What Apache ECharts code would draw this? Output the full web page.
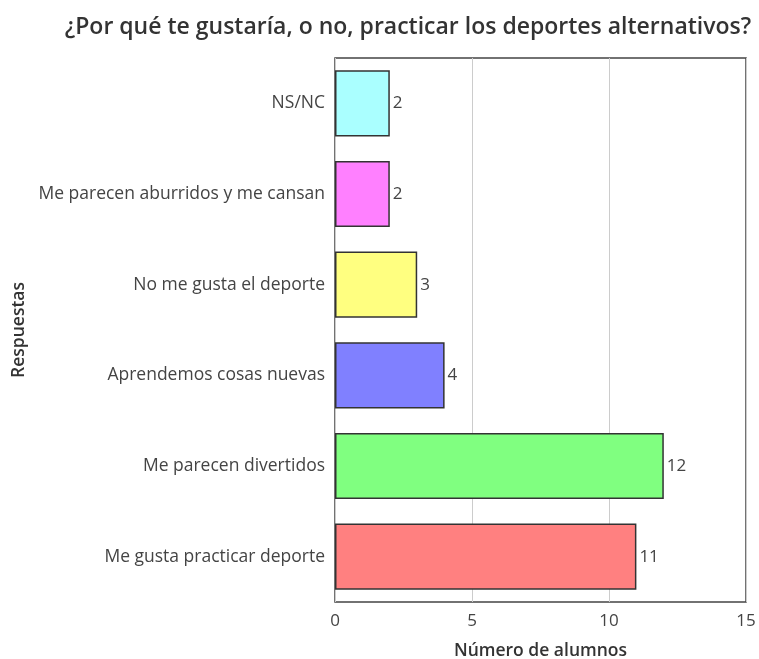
<!DOCTYPE html>
<html><head><meta charset="utf-8">
<script src="https://cdn.jsdelivr.net/npm/echarts@6/dist/echarts.min.js"></script>
<style>html,body{margin:0;padding:0;background:#fff}#c{width:759px;height:659px}</style>
</head><body><div id="c"></div>
<script>
const categories = ["Me gusta practicar deporte","Me parecen divertidos","Aprendemos cosas nuevas","No me gusta el deporte","Me parecen aburridos y me cansan","NS/NC"];
const values = [11,12,4,3,2,2];
const colors = ["#FF8080","#80FF80","#8080FF","#FFFF80","#FF80FF","#AAFFFF"];
const xTicks = [0,5,10,15];
const font = "'Open Sans', sans-serif";
const chart = echarts.init(document.getElementById('c'));
chart.setOption({
  animation:false,
  title:{text:"¿Por qué te gustaría, o no, practicar los deportes alternativos?",left:403,top:11,textAlign:'center',
    textStyle:{fontFamily:font,fontSize:23,fontWeight:600,color:'#333'}},
  grid:{left:335,right:13,top:58,bottom:57,outerBoundsMode:'none',containLabel:false,show:true,borderColor:'#444',borderWidth:1.5,backgroundColor:'transparent'},
  xAxis:{type:'value',min:xTicks[0],max:xTicks[xTicks.length-1],interval:5,
    name:"Número de alumnos",nameLocation:'middle',nameGap:40,
    nameTextStyle:{fontFamily:font,fontSize:17.5,fontWeight:600,color:'#333'},
    axisLine:{show:false},axisTick:{show:false},
    axisLabel:{fontFamily:font,fontSize:17,color:'#444',margin:11},
    splitLine:{show:true,lineStyle:{color:'#ccc',width:1}}},
  yAxis:{type:'category',data:categories,
    name:"Respuestas",nameLocation:'middle',nameGap:305,nameRotate:90,
    nameTextStyle:{fontFamily:font,fontSize:17.5,fontWeight:600,color:'#333'},
    axisLine:{show:false},axisTick:{show:false},
    axisLabel:{fontFamily:font,fontSize:17.5,color:'#444',margin:10}},
  series:[{type:'bar',barCategoryGap:'27%',
    data:values.map((v,i)=>({value:v,itemStyle:{color:colors[i]}})),
    itemStyle:{borderColor:'#333',borderWidth:1.5},
    label:{show:true,position:'right',distance:3,fontFamily:font,fontSize:17,color:'#444'}}]
});
</script></body></html>
